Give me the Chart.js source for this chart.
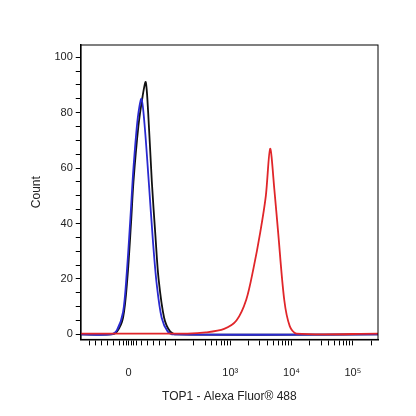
<!DOCTYPE html><html><head><style>body{margin:0;background:#fff}#w{width:416px;height:416px}</style>
<script src="https://cdn.jsdelivr.net/npm/chart.js@4"></script></head><body><div id="w"><canvas id="c"></canvas></div><script>
const blackX=[0.56,1.05,1.15,1.25,1.32,1.38,1.42,1.50,1.57,1.62,1.66,1.72,1.78,1.83,1.92,2.02,2.13,5.41];
const blackY=[0,0,1,6,20,40,55,75,86,91,80,55,35,20,6,1,0,0];
const blueX=[0.56,1.05,1.15,1.25,1.31,1.37,1.42,1.49,1.55,1.60,1.67,1.74,1.80,1.88,1.98,2.08,5.41];
const blueY=[0,0,1.5,8,22,42,60,78,85,76,55,33,18,6,1,0,0];
const redX=[0.56,2.3,2.6,2.9,3.1,3.26,3.38,3.49,3.58,3.65,3.72,3.78,3.88,3.97,4.08,5.41];
const redY=[0.3,0.3,0.7,2,5,12.5,24,37,50,67,52,37,12.5,3,0.3,0.3];
const xTickPos=[1.34,3,4,5];
const xTickLabels=['0','10³','10⁴','10⁵'];
const minorX=[0.7,0.8,0.9,1.0,1.1,1.2,1.25,1.3,1.38,1.42,1.47,1.55,1.65,1.75,1.85,1.95,2.1,2.4,2.6,2.7,2.78,2.85,2.9,2.95,3.3,3.48,3.6,3.7,3.78,3.85,3.9,3.95,4.3,4.48,4.6,4.7,4.78,4.85,4.9,4.95,5.3];
const yTicks=[0,20,40,60,80,100];
const pts=(xs,ys)=>xs.map((x,i)=>({x,y:ys[i]}));
const ds=(xs,ys,c)=>({data:pts(xs,ys),borderColor:c,borderWidth:1.8,pointRadius:0,showLine:true,tension:0.3,fill:false});
const frame={id:'f',afterDraw(ch){const a=ch.chartArea,g=ch.ctx;g.save();g.strokeStyle='#000';g.lineWidth=1;g.strokeRect(a.left,a.top,a.right-a.left,a.bottom-a.top);g.restore();}};
new Chart(document.getElementById('c'),{type:'scatter',data:{datasets:[ds(redX,redY,'#e0262a'),ds(blueX,blueY,'#2a2ad0'),ds(blackX,blackY,'#111')]},
options:{responsive:true,maintainAspectRatio:false,animation:false,layout:{padding:{left:25,right:38,top:45,bottom:12}},
plugins:{legend:{display:false},tooltip:{enabled:false}},
scales:{x:{type:'linear',min:0.56,max:5.41,border:{color:'#000',width:1.5},grid:{display:true,drawOnChartArea:false,drawTicks:true,tickLength:6,color:'#000'},
afterBuildTicks:s=>{s.ticks=[...xTickPos,...minorX].map(v=>({value:v}));},
ticks:{autoSkip:false,maxRotation:0,padding:21,color:'#222',font:{family:'Arial',size:11},callback:v=>{const i=xTickPos.indexOf(v);return i<0?'':xTickLabels[i];}},
title:{display:true,text:'TOP1 - Alexa Fluor® 488',color:'#222',font:{family:'Arial',size:12},padding:{top:-11,bottom:0}}},
y:{min:-1.8,max:104.4,border:{color:'#000',width:1.5},grid:{display:true,drawOnChartArea:false,drawTicks:true,tickLength:5,color:'#000'},
afterBuildTicks:s=>{const t=[];for(let v=0;v<=100;v+=5)t.push({value:v});s.ticks=t;},
ticks:{autoSkip:false,color:'#222',font:{family:'Arial',size:11},callback:v=>yTicks.includes(v)?String(v):''},
title:{display:true,text:'Count',color:'#222',font:{family:'Arial',size:12},padding:{bottom:8}}}}},plugins:[frame]});
</script></body></html>
